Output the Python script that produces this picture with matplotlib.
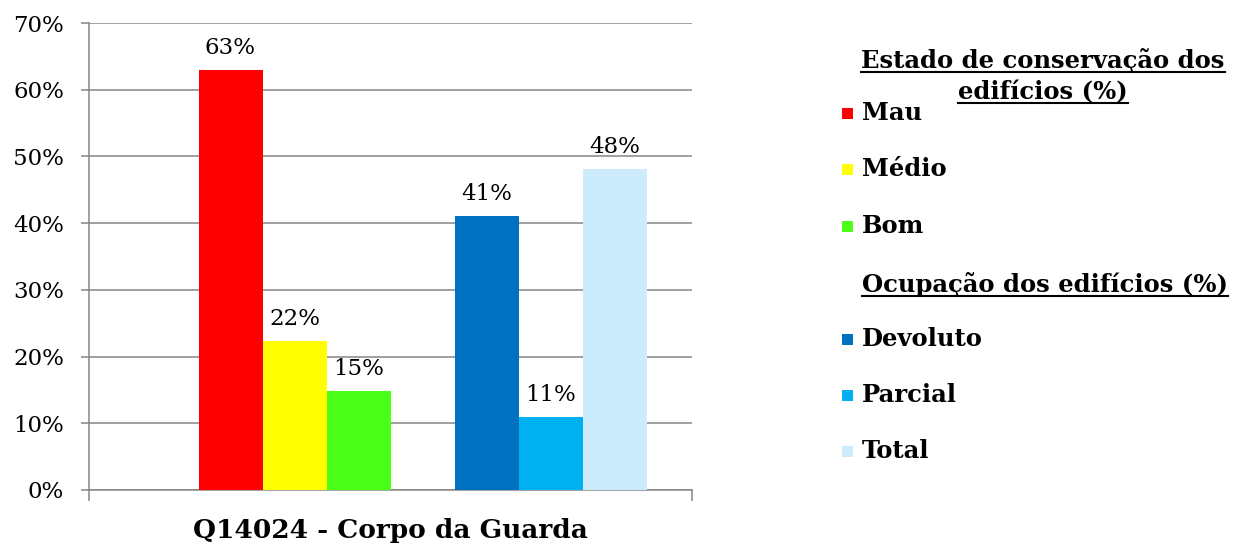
import numpy as np
import matplotlib
matplotlib.use("Agg")
import matplotlib.pyplot as plt
from matplotlib.patches import Rectangle
from matplotlib.lines import Line2D
from matplotlib.ticker import PercentFormatter

# series as in the source spreadsheet; the two headers are empty series
series = ["Estado de conservação dos edifícios (%)", "Mau", "Médio", "Bom",
          "Ocupação dos edifícios (%)", "Devoluto", "Parcial", "Total"]
values = [None, 0.63, 0.223, 0.148, None, 0.41, 0.11, 0.481]
colors = [None, "#FF0000", "#FFFF00", "#4BFF19", None, "#0070C0", "#00B0F0", "#CCEBFB"]
category = "Q14024 - Corpo da Guarda"
yticks = [0, 0.1, 0.2, 0.3, 0.4, 0.5, 0.6, 0.7]

FONT = "DejaVu Serif"
GRID = "#868686"
W, H = 1234, 550
LEG_FS = 17.5

fig = plt.figure(figsize=(W / 100, H / 100), dpi=100)
ax = fig.add_axes([89 / W, 1 - 490 / H, 603 / W, 467 / H])

bar_w = 64 / 603
n = len(series)
for i, (name, v, c) in enumerate(zip(series, values, colors)):
    if v is None:
        continue
    x = (i - (n - 1) / 2) * bar_w
    ax.bar(x, v, width=bar_w, color=c, zorder=3)
    ax.annotate(f"{round(v * 100)}%", (x, v), xytext=(0, 8), textcoords="offset points",
                ha="center", va="bottom", fontsize=16.5, family=FONT)

ax.set_xlim(-0.5, 0.5)
ax.set_ylim(0, 0.7)
ax.set_yticks(yticks)
ax.yaxis.set_major_formatter(PercentFormatter(1.0, decimals=0))
ax.yaxis.grid(True, color=GRID, lw=1.1)
ax.set_axisbelow(True)
for s in ["top", "right"]:
    ax.spines[s].set_visible(False)
for s in ["left", "bottom"]:
    ax.spines[s].set_color(GRID)
    ax.spines[s].set_linewidth(1.1)
ax.tick_params(axis="y", length=6, width=1.1, color=GRID, labelsize=16.5, pad=12)
for lab in ax.get_yticklabels():
    lab.set_family(FONT)

ax.set_xticks([0])
ax.set_xticklabels([category], fontsize=19, fontweight="bold", family=FONT)
ax.set_xticks([-0.5, 0.5], minor=True)
ax.tick_params(axis="x", which="major", length=0, pad=20)
ax.tick_params(axis="x", which="minor", length=8, width=1.1, color=GRID)

# legend drawn by hand (Excel style, with underlined group headers)
def fx(px):
    return px / W

def fy(py):
    return 1 - py / H

underlined = []
underlined.append(fig.text(fx(1043), fy(68), "Estado de conservação dos", ha="center", va="baseline",
                           fontsize=LEG_FS, fontweight="bold", family=FONT))
underlined.append(fig.text(fx(1043), fy(99), "edifícios (%)", ha="center", va="baseline",
                           fontsize=LEG_FS, fontweight="bold", family=FONT))

row_y0, row_step = 56.5, 56.4
for i, (name, v, c) in enumerate(zip(series, values, colors)):
    yc = row_y0 + i * row_step
    if c is None:
        if i > 0:
            underlined.append(fig.text(fx(862), fy(yc + 10), name, ha="left", va="baseline",
                                       fontsize=LEG_FS, fontweight="bold", family=FONT))
        continue
    fig.patches.append(Rectangle((fx(842), fy(yc + 6)), 11 / W, 11 / H, transform=fig.transFigure,
                                 facecolor=c, edgecolor="none"))
    fig.text(fx(862), fy(yc), name, ha="left", va="center", fontsize=LEG_FS, fontweight="bold",
             family=FONT)

fig.canvas.draw()
r = fig.canvas.get_renderer()
for t in underlined:
    bb = t.get_window_extent(r)
    yb = t.get_position()[1] * H - 4
    fig.add_artist(Line2D([bb.x0 / W, bb.x1 / W], [yb / H, yb / H], transform=fig.transFigure,
                          color="black", lw=1.5))

fig.savefig("out.png", dpi=100)
